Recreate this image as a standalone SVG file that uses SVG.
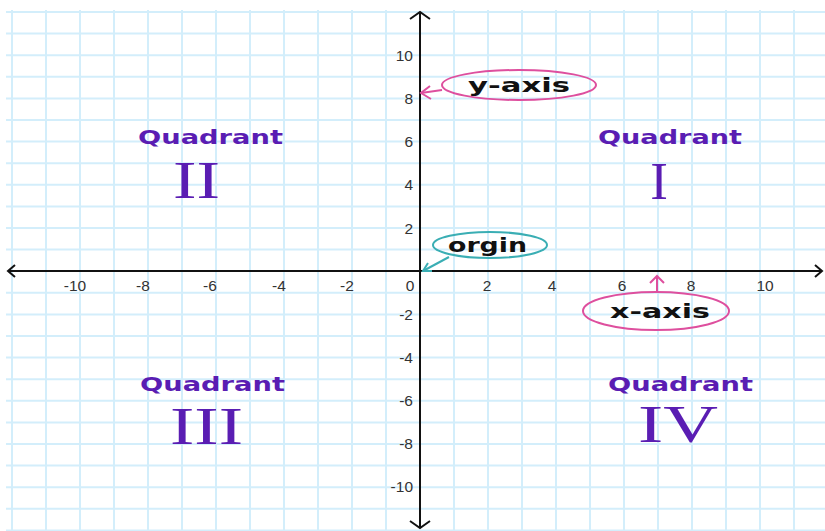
<svg xmlns="http://www.w3.org/2000/svg" width="825" height="531" viewBox="0 0 825 531">
<style>
.grid line{stroke:#d3eefb;stroke-width:2}
.axis{stroke:#111;stroke-width:2;fill:none}
.tick{font-family:"Liberation Sans",Arial,sans-serif;font-size:15.5px;fill:#333}
.quad{font-family:"DejaVu Sans",sans-serif;font-weight:bold;font-size:19px;fill:#5a1db3}
.roman{font-family:"Liberation Serif","Times New Roman",serif;font-size:53px;fill:#5a1db3}
.lbl{font-family:"DejaVu Sans",sans-serif;font-weight:bold;font-size:20px;fill:#111}
.pink{stroke:#de4f9e;stroke-width:2;fill:none}
.teal{stroke:#3aaeb4;stroke-width:2;fill:none}
</style>
<rect width="825" height="531" fill="#fff"/>
<g class="grid">
<line x1="12" y1="10" x2="12" y2="531"/><line x1="46" y1="10" x2="46" y2="531"/><line x1="80" y1="10" x2="80" y2="531"/><line x1="114" y1="10" x2="114" y2="531"/><line x1="148" y1="10" x2="148" y2="531"/><line x1="182" y1="10" x2="182" y2="531"/><line x1="216" y1="10" x2="216" y2="531"/><line x1="250" y1="10" x2="250" y2="531"/><line x1="284" y1="10" x2="284" y2="531"/><line x1="318" y1="10" x2="318" y2="531"/><line x1="352" y1="10" x2="352" y2="531"/><line x1="386" y1="10" x2="386" y2="531"/><line x1="454" y1="10" x2="454" y2="531"/><line x1="488" y1="10" x2="488" y2="531"/><line x1="522" y1="10" x2="522" y2="531"/><line x1="556" y1="10" x2="556" y2="531"/><line x1="590" y1="10" x2="590" y2="531"/><line x1="624" y1="10" x2="624" y2="531"/><line x1="658" y1="10" x2="658" y2="531"/><line x1="692" y1="10" x2="692" y2="531"/><line x1="726" y1="10" x2="726" y2="531"/><line x1="760" y1="10" x2="760" y2="531"/><line x1="794" y1="10" x2="794" y2="531"/>
<line x1="6" y1="12" x2="825" y2="12"/><line x1="6" y1="33.6" x2="825" y2="33.6"/><line x1="6" y1="55.2" x2="825" y2="55.2"/><line x1="6" y1="76.8" x2="825" y2="76.8"/><line x1="6" y1="98.4" x2="825" y2="98.4"/><line x1="6" y1="120" x2="825" y2="120"/><line x1="6" y1="141.6" x2="825" y2="141.6"/><line x1="6" y1="163.2" x2="825" y2="163.2"/><line x1="6" y1="184.8" x2="825" y2="184.8"/><line x1="6" y1="206.4" x2="825" y2="206.4"/><line x1="6" y1="228" x2="825" y2="228"/><line x1="6" y1="249.6" x2="825" y2="249.6"/><line x1="6" y1="292.8" x2="825" y2="292.8"/><line x1="6" y1="314.4" x2="825" y2="314.4"/><line x1="6" y1="336" x2="825" y2="336"/><line x1="6" y1="357.6" x2="825" y2="357.6"/><line x1="6" y1="379.2" x2="825" y2="379.2"/><line x1="6" y1="400.8" x2="825" y2="400.8"/><line x1="6" y1="422.4" x2="825" y2="422.4"/><line x1="6" y1="444" x2="825" y2="444"/><line x1="6" y1="465.6" x2="825" y2="465.6"/><line x1="6" y1="487.2" x2="825" y2="487.2"/><line x1="6" y1="508.8" x2="825" y2="508.8"/><line x1="6" y1="530.4" x2="825" y2="530.4"/>
</g>
<g id="axes">
<line class="axis" x1="8" y1="271" x2="822" y2="271"/>
<line class="axis" x1="420" y1="12" x2="420" y2="528"/>
<polyline class="axis" points="815,265 822,271 815,277"/>
<polyline class="axis" points="15,265 8,271 15,277"/>
<polyline class="axis" points="410,19 420,12 430,19"/>
<polyline class="axis" points="410,521 420,528 430,521"/>
</g>
<g id="ticks" class="tick">
<g text-anchor="middle">
<text x="75" y="291">-10</text><text x="143" y="291">-8</text><text x="210" y="291">-6</text><text x="279" y="291">-4</text><text x="347" y="291">-2</text><text x="410" y="291">0</text>
<text x="487" y="291">2</text><text x="552" y="291">4</text><text x="622" y="291">6</text><text x="691" y="291">8</text><text x="765" y="291">10</text>
</g>
<g text-anchor="end">
<text x="413" y="61">10</text><text x="413" y="104">8</text><text x="413" y="147">6</text><text x="413" y="190">4</text><text x="413" y="234">2</text>
<text x="413" y="320">-2</text><text x="413" y="363">-4</text><text x="413" y="406">-6</text><text x="413" y="449">-8</text><text x="413" y="492">-10</text>
</g>
</g>
<g id="quadrant-1">
<text class="quad" x="598" y="144" textLength="144" lengthAdjust="spacingAndGlyphs">Quadrant</text>
<text class="roman" x="659" y="199" text-anchor="middle">I</text>
</g>
<g id="quadrant-2">
<text class="quad" x="138" y="144" textLength="145" lengthAdjust="spacingAndGlyphs">Quadrant</text>
<text class="roman" x="173" y="198" textLength="47" lengthAdjust="spacingAndGlyphs">II</text>
</g>
<g id="quadrant-3">
<text class="quad" x="140" y="391" textLength="145" lengthAdjust="spacingAndGlyphs">Quadrant</text>
<text class="roman" x="170" y="444" textLength="73" lengthAdjust="spacingAndGlyphs">III</text>
</g>
<g id="quadrant-4">
<text class="quad" x="608" y="391" textLength="145" lengthAdjust="spacingAndGlyphs">Quadrant</text>
<text class="roman" x="638" y="442" textLength="80" lengthAdjust="spacingAndGlyphs">IV</text>
</g>
<g id="y-axis-label">
<ellipse class="pink" cx="519" cy="85" rx="77" ry="15"/>
<text class="lbl" x="468" y="92" textLength="102" lengthAdjust="spacingAndGlyphs">y-axis</text>
</g>
<g id="origin-label">
<ellipse class="teal" cx="490" cy="245" rx="57" ry="13"/>
<text class="lbl" x="448" y="252" textLength="79" lengthAdjust="spacingAndGlyphs">orgin</text>
</g>
<g id="x-axis-label">
<ellipse class="pink" cx="656" cy="311" rx="73" ry="19"/>
<text class="lbl" x="610" y="318" textLength="100" lengthAdjust="spacingAndGlyphs">x-axis</text>
</g>
<g id="connectors">
<line class="pink" x1="442" y1="90" x2="421" y2="93"/>
<polyline class="pink" points="430,86 421,93 431,99"/>
<line class="teal" x1="449" y1="257" x2="423" y2="271"/>
<polyline class="teal" points="428,263 423,271 432,271"/>
<line class="pink" x1="657" y1="292" x2="657" y2="276"/>
<polyline class="pink" points="650,283 657,276 664,283"/>
</g>
</svg>
